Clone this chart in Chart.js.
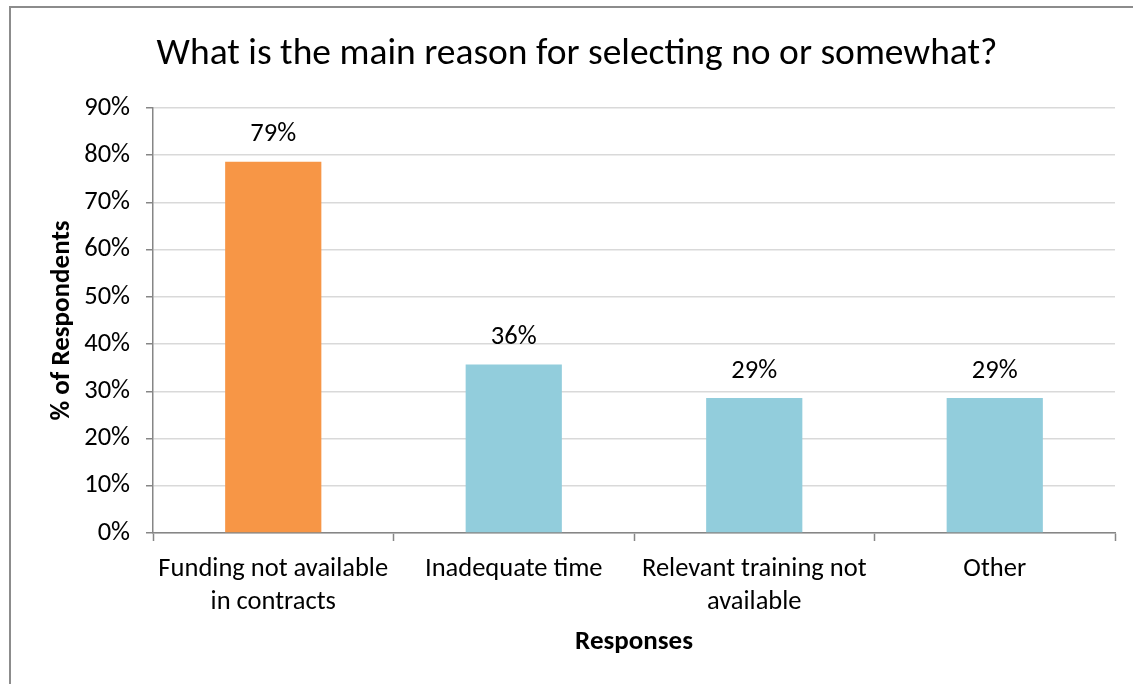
<!DOCTYPE html>
<html>
<head>
<meta charset="utf-8">
<script src="https://cdn.jsdelivr.net/npm/chart.js@4"></script>
<style>
  html, body { margin: 0; padding: 0; background: #fff; overflow: hidden; }
  .frame { position: absolute; left: 9px; top: 6px; width: 1300px; height: 900px; border: 2px solid #8c8c8c; box-sizing: border-box; }
  .chart-wrapper { position: absolute; left: 0; top: 0; width: 1133px; height: 684px; }
</style>
</head>
<body>
<div class="frame"></div>
<div class="chart-wrapper"><canvas id="reasonChart"></canvas></div>
<script>
// Survey: main reason for selecting "no" or "somewhat" (% of respondents)
const categories = [
  ['Funding not available', 'in contracts'],
  'Inadequate time',
  ['Relevant training not', 'available'],
  'Other'
];
const percentRespondents = [78.6, 35.7, 28.6, 28.6];
const barColors = ['#F79646', '#92CDDC', '#92CDDC', '#92CDDC'];
const yTicks = [0, 10, 20, 30, 40, 50, 60, 70, 80, 90];

const FONT = 'Calibri, Carlito, "Open Sans", sans-serif';
const AXIS_GREY = '#868686';
const GRID_GREY = '#d9d9d9';

// value labels above each bar
const barValueLabels = {
  id: 'barValueLabels',
  afterDatasetsDraw(chart) {
    const ctx = chart.ctx;
    const meta = chart.getDatasetMeta(0);
    ctx.save();
    ctx.font = '26.5px ' + FONT;
    ctx.fillStyle = '#000';
    ctx.textAlign = 'center';
    ctx.textBaseline = 'middle';
    meta.data.forEach((bar, i) => {
      ctx.fillText(Math.round(percentRespondents[i]) + '%', bar.x, bar.y - 27);
    });
    ctx.restore();
  }
};

const canvas = document.getElementById('reasonChart');
new Chart(canvas, {
  type: 'bar',
  data: {
    labels: categories,
    datasets: [{
      data: percentRespondents,
      backgroundColor: barColors,
      borderWidth: 0,
      categoryPercentage: 1,
      barPercentage: 0.4
    }]
  },
  options: {
    responsive: true,
    maintainAspectRatio: false,
    animation: false,
    layout: { padding: { left: 39, right: 18, top: 0, bottom: 0 } },
    plugins: {
      legend: { display: false },
      tooltip: { enabled: false },
      title: {
        display: true,
        text: 'What is the main reason for selecting no or somewhat?',
        color: '#000',
        font: { family: FONT, size: 37.5, weight: 'normal', lineHeight: 1.2 },
        padding: { top: 32, bottom: 31 }
      }
    },
    scales: {
      x: {
        offset: true,
        grid: {
          display: true,
          offset: true,
          drawOnChartArea: false,
          drawTicks: true,
          tickLength: 8,
          tickColor: AXIS_GREY,
          tickWidth: 1.5
        },
        border: { color: AXIS_GREY, width: 1.5 },
        ticks: {
          color: '#000',
          maxRotation: 0,
          autoSkip: false,
          padding: 12,
          font: { family: FONT, size: 26.5, lineHeight: 1.25 }
        },
        title: {
          display: true,
          text: 'Responses',
          color: '#000',
          font: { family: FONT, size: 27, weight: 'bold' },
          padding: { top: 0, bottom: 26 }
        },
        afterFit(scale) { scale.height = 151; }
      },
      y: {
        min: 0,
        max: 90,
        afterBuildTicks(scale) { scale.ticks = yTicks.map(v => ({ value: v })); },
        grid: {
          color: GRID_GREY,
          lineWidth: 1.5,
          drawTicks: true,
          tickLength: 7,
          tickColor: AXIS_GREY,
          tickWidth: 1.5
        },
        border: { color: AXIS_GREY, width: 1.5 },
        ticks: {
          color: '#000',
          padding: 16,
          font: { family: FONT, size: 26.5 },
          callback: v => v + '%'
        },
        title: {
          display: true,
          text: '% of Respondents',
          color: '#000',
          font: { family: FONT, size: 27, weight: 'bold' },
          padding: { top: 7, bottom: 0 }
        },
        afterFit(scale) { scale.width = 114; }
      }
    }
  },
  plugins: [barValueLabels]
});
</script>
</body>
</html>
